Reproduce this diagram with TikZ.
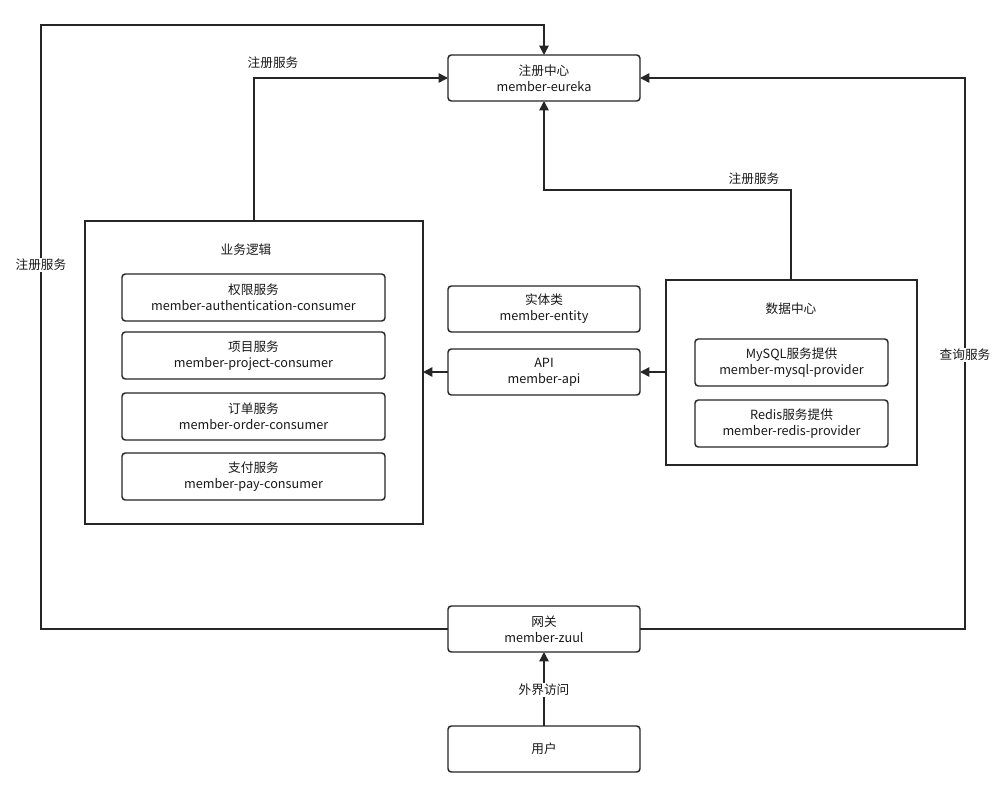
\documentclass[tikz,border=0pt]{standalone}
\usepackage{fontspec}
\setmainfont{Noto Sans CJK SC}
\usetikzlibrary{arrows.meta}
\begin{document}
\begin{tikzpicture}[x=0.75pt,y=-0.75pt,
  box/.style={draw=black!85,line width=1.1pt,rounded corners=2.5pt},
  big/.style={draw=black!85,line width=1.1pt},
  ln/.style={draw=black!85,line width=1.1pt,-{Triangle[length=7pt,width=7pt]}},
  txt/.style={font=\fontsize{9.5}{12}\selectfont,align=center,text=black!90}]
\useasboundingbox (0,0) rectangle (1006,797);
\fill[white] (0,0) rectangle (1006,797);
% boxes
\draw[box] (448,55) rectangle (640,101); \node[txt] (eureka) at (544,78) {注册中心\\member-eureka};
\draw[big] (85,221) rectangle (423,524); \node[txt] (biz) at (246,250) {业务逻辑};
\coordinate (bizTop) at (254,221); \coordinate (bizR) at (423,372);
\draw[box] (122,274) rectangle (385,321); \node[txt] (a1) at (253.5,297.5) {权限服务\\member-authentication-consumer};
\draw[box] (122,332) rectangle (385,379); \node[txt] (a2) at (253.5,355.5) {项目服务\\member-project-consumer};
\draw[box] (122,393) rectangle (385,440); \node[txt] (a3) at (253.5,416.5) {订单服务\\member-order-consumer};
\draw[box] (122,453) rectangle (385,500); \node[txt] (a4) at (253.5,476.5) {支付服务\\member-pay-consumer};
\draw[box] (448,286) rectangle (640,332); \node[txt] (entity) at (544,309) {实体类\\member-entity};
\draw[box] (448,349) rectangle (640,395); \node[txt] (api) at (544,372) {API\\member-api};
\draw[big] (666,280) rectangle (917,465); \node[txt] (dc) at (791,309) {数据中心};
\coordinate (dcTop) at (791,280); \coordinate (dcL) at (666,372);
\draw[box] (695,339) rectangle (888,386); \node[txt] (my) at (791.5,362.5) {MySQL服务提供\\member-mysql-provider};
\draw[box] (695,400) rectangle (888,447); \node[txt] (rd) at (791.5,423.5) {Redis服务提供\\member-redis-provider};
\draw[box] (448,606) rectangle (640,652); \node[txt] (zuul) at (544,629) {网关\\member-zuul};
\draw[box] (448,726) rectangle (640,772); \node[txt] (user) at (544,749) {用户};
\coordinate (eT) at (544,55); \coordinate (eB) at (544,101); \coordinate (eL) at (448,78); \coordinate (eR) at (640,78);
\coordinate (zL) at (448,629); \coordinate (zR) at (640,629); \coordinate (zB) at (544,652); \coordinate (uT) at (544,726);
\coordinate (apiL) at (448,372); \coordinate (apiR) at (640,372);
% connectors
\draw[ln] (zL) -- (41,629) -- (41,25) -- (544,25) -- (eT);
\node[txt,fill=white,inner sep=1pt] (l1) at (41,265) {注册服务};
\draw[ln] (bizTop) -- (254,78) -- (eL);
\node[txt] (l2) at (273,63) {注册服务};
\draw[ln] (dcTop) -- (791,190) -- (544,190) -- (eB);
\node[txt] (l3) at (754,179) {注册服务};
\draw[ln] (zR) -- (965,629) -- (965,78) -- (eR);
\node[txt,fill=white,inner sep=1pt] (l4) at (965,355) {查询服务};
\draw[ln] (dcL) -- (apiR);
\draw[ln] (apiL) -- (bizR);
\draw[ln] (uT) -- (zB);
\node[txt,fill=white,inner sep=1pt] (l5) at (544,690) {外界访问};
\end{tikzpicture}
\end{document}
